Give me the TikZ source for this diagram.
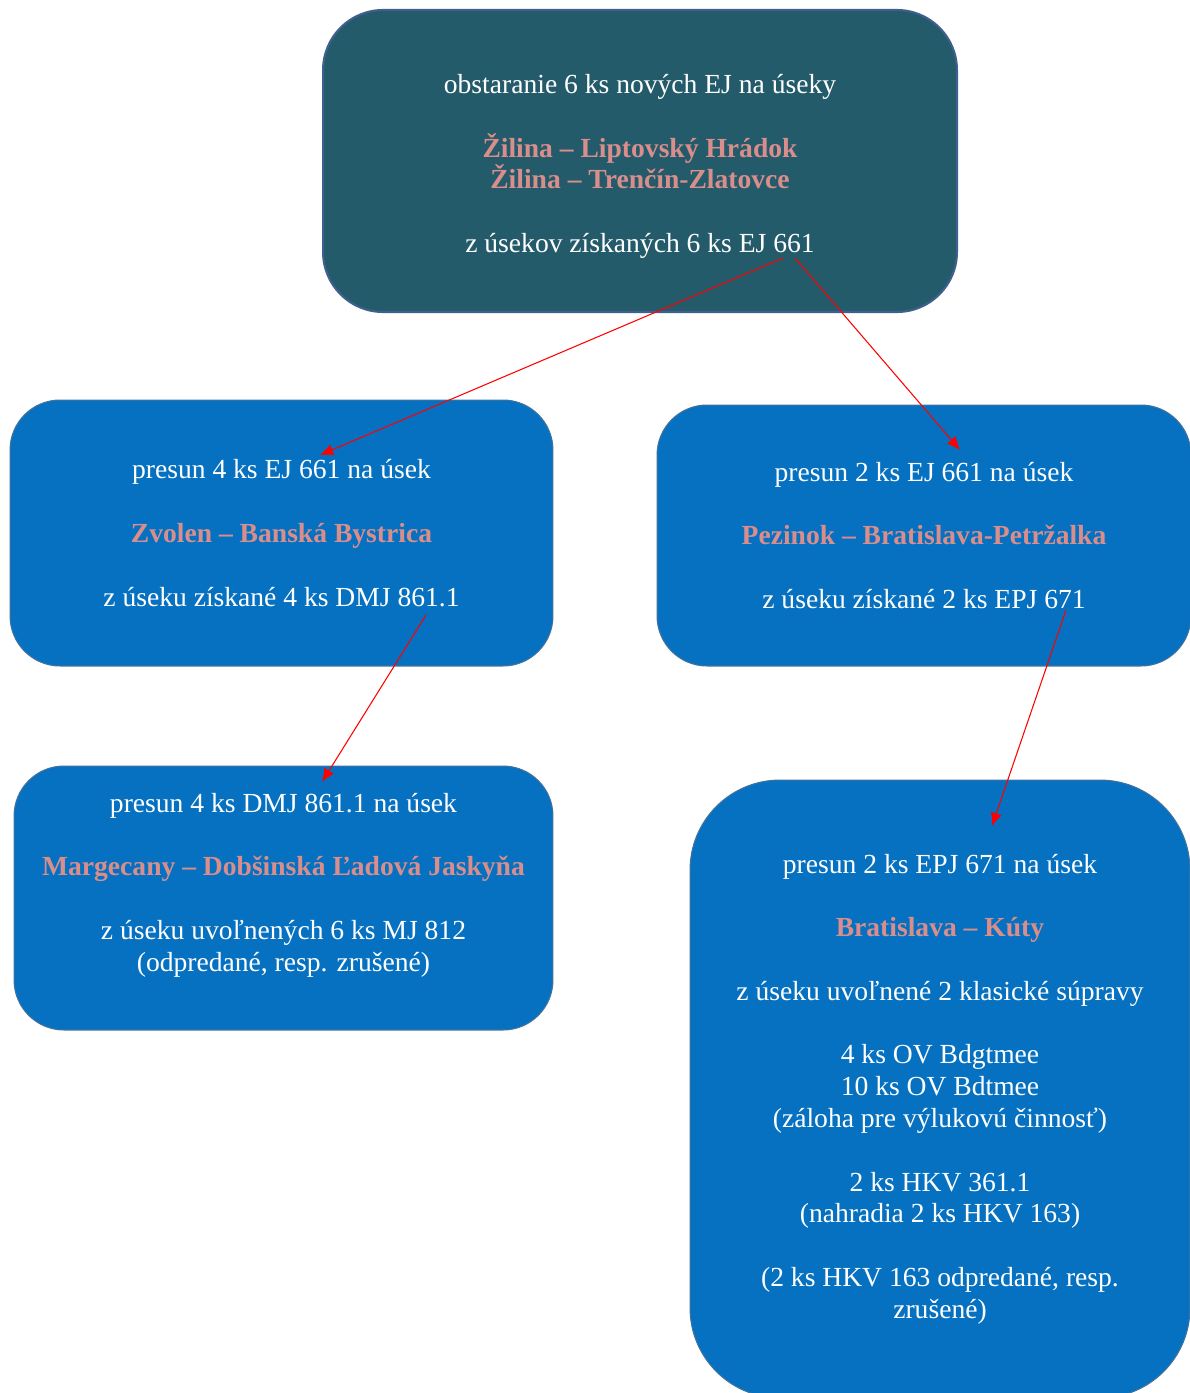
\documentclass[tikz,border=0pt]{standalone}
\usepackage{fontspec}
\setmainfont{Liberation Serif}
\usetikzlibrary{arrows.meta}
\definecolor{topfill}{HTML}{245B6B}
\definecolor{topline}{HTML}{3F5F8F}
\definecolor{boxfill}{HTML}{0671C1}
\definecolor{boxline}{HTML}{41719C}
\definecolor{trasacolor}{HTML}{D98E8C}
\newcommand{\trasa}[1]{\textcolor{trasacolor}{\textbf{#1}}}
\newcommand{\gap}{\\[18.1pt]}
\tikzset{
  box/.style={draw=boxline, fill=boxfill, text=white, align=center,
    font=\fontsize{15.7}{18.1}\selectfont, rounded corners=1cm,
    line width=0.6pt, inner sep=0pt},
  topbox/.style={box, draw=topline, fill=topfill, line width=1.2pt, rounded corners=1.2cm},
  move/.style={red, line width=0.6pt, -{Latex[length=7.5pt,width=6.5pt]}}
}
\begin{document}
\begin{tikzpicture}[x=0.02cm,y=-0.02cm]
  \useasboundingbox (0,0) rectangle (1190,1393);
  \node[topbox, minimum width=12.68cm, minimum height=6.04cm] (top) at (640,161)
    {\rule{0pt}{17pt}obstaranie 6 ks nových EJ na úseky\gap
     \trasa{Žilina – Liptovský Hrádok}\\
     \trasa{Žilina – Trenčín-Zlatovce}\gap
     z úsekov získaných 6 ks EJ 661};
  \node[box, minimum width=10.86cm, minimum height=5.32cm] (zvolen) at (281.5,533)
    {presun 4 ks EJ 661 na úsek\gap
     \trasa{Zvolen – Banská Bystrica}\gap
     z úseku získané 4 ks DMJ 861.1};
  \node[box, minimum width=10.68cm, minimum height=5.22cm] (pezinok) at (924,535.5)
    {presun 2 ks EJ 661 na úsek\gap
     \trasa{Pezinok – Bratislava-Petržalka}\gap
     z úseku získané 2 ks EPJ 671};
  \node[box, minimum width=10.78cm, minimum height=5.28cm] (margecany) at (283.5,898)
    {presun 4 ks DMJ 861.1 na úsek\gap
     \trasa{Margecany – Dobšinská Ľadová Jaskyňa}\gap
     z úseku uvoľnených 6 ks MJ 812\\
     (odpredané, resp. zrušené)\\ \mbox{}};
  \node[box, rounded corners=1.8cm, minimum width=10cm, minimum height=12.36cm] (kuty) at (940,1089)
    {presun 2 ks EPJ 671 na úsek\gap
     \trasa{Bratislava – Kúty}\gap
     z úseku uvoľnené 2 klasické súpravy\gap
     4 ks OV Bdgtmee\\
     10 ks OV Bdtmee\\
     (záloha pre výlukovú činnosť)\gap
     2 ks HKV 361.1\\
     (nahradia 2 ks HKV 163)\gap
     (2 ks HKV 163 odpredané, resp.\\
     zrušené)};
  \coordinate (top-a) at ([shift={(143,97)}]top.center);
  \coordinate (top-b) at ([shift={(155,97)}]top.center);
  \coordinate (zvolen-in) at ([shift={(38.5,-78)}]zvolen.center);
  \coordinate (zvolen-out) at ([shift={(144.5,82)}]zvolen.center);
  \coordinate (pezinok-in) at ([shift={(36,-85.5)}]pezinok.center);
  \coordinate (pezinok-out) at ([shift={(142,74.5)}]pezinok.center);
  \coordinate (margecany-in) at ([shift={(38.5,-116)}]margecany.center);
  \coordinate (kuty-in) at ([shift={(52,-263)}]kuty.center);
  \begin{scope}[move]
    \draw (top-a) to (zvolen-in);
    \draw (top-b) to (pezinok-in);
    \draw (zvolen-out) to (margecany-in);
    \draw (pezinok-out) to (kuty-in);
  \end{scope}
\end{tikzpicture}
\end{document}
